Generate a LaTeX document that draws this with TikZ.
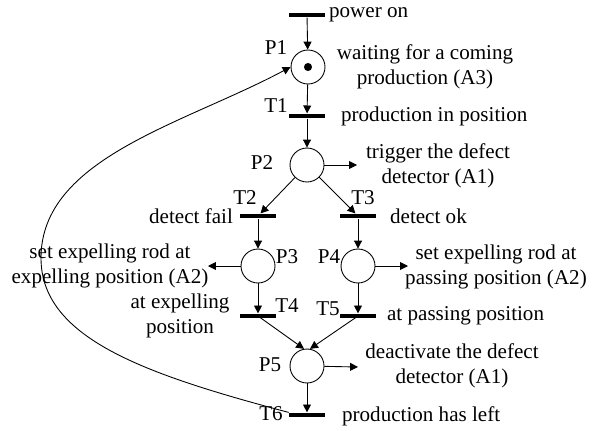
\documentclass[tikz,border=0pt]{standalone}
\usepackage{fontspec}
\setmainfont{Liberation Serif}
\usetikzlibrary{arrows.meta}

\begin{document}
\begin{tikzpicture}[x=0.02cm, y=-0.02cm, font=\fontsize{12}{14}\selectfont,
    place/.style={draw, circle, line width=0.5pt, minimum size=0.68cm, inner sep=0pt},
    trans/.style={rectangle, fill=black, minimum width=0.72cm, minimum height=0.09cm, inner sep=0pt},
    arc/.style={line width=0.5pt, -{Triangle[length=4.5pt,width=4.5pt]}},
    txt/.style={inner sep=1pt, align=center}]
    \useasboundingbox (0,0) rectangle (594,430);

    % Lugares
    \node[place] (p1) at (308,67) {};
    \fill (p1) circle (2.3pt);
    \node[place] (p2) at (307,165) {};
    \node[place] (p3) at (258,266) {};
    \node[place] (p4) at (358,266) {};
    \node[place] (p5) at (307,366) {};

    % Transicoes
    \node[trans] (t0) at (307,15) {};
    \node[trans] (t1) at (307,116) {};
    \node[trans] (t2) at (258,216) {};
    \node[trans] (t3) at (358,216) {};
    \node[trans] (t4) at (258,316) {};
    \node[trans] (t5) at (358,316) {};
    \node[trans] (t6) at (307,415) {};

    % Nomes
    \node (lp1) at (276,48) {P1};
    \node (lt1) at (276,106) {T1};
    \node (lp2) at (262,163) {P2};
    \node (lt2) at (245,198) {T2};
    \node (lt3) at (363,198) {T3};
    \node (lp3) at (287,257) {P3};
    \node (lp4) at (329,257) {P4};
    \node (lt4) at (287,306) {T4};
    \node (lt5) at (328,309) {T5};
    \node (lp5) at (270,365) {P5};
    \node (lt6) at (271,414) {T6};

    % Acoes
    \coordinate (a2) at (357,165);
    \coordinate (a3) at (208,266);
    \coordinate (a4) at (408,266);
    \coordinate (a5) at (358,367);
    \draw[arc] (p2) -- (a2);
    \draw[arc] (p3) -- (a3);
    \draw[arc] (p4) -- (a4);
    \draw[arc] (p5) -- (a5);

    % Textos
    \node[txt, anchor=west] (pon) at (327,15) {power on};
    \node[txt] (wait) at (425,67) {waiting for a coming\\production (A3)};
    \node[txt, anchor=west] (pin) at (339,116) {production in position};
    \node[txt] (trig) at (438,166) {trigger the defect\\detector (A1)};
    \node[txt, anchor=east] (dfail) at (235,216) {detect fail};
    \node[txt, anchor=west] (dok) at (388,216) {detect ok};
    \node[txt] (sexp) at (110,266) {set expelling rod at\\expelling position (A2)};
    \node[txt] (spas) at (496,267) {set expelling rod at\\passing position (A2)};
    \node[txt] (aexp) at (180,316) {at expelling\\position};
    \node[txt, anchor=west] (apas) at (385,316) {at passing position};
    \node[txt] (deact) at (452,366) {deactivate the defect\\detector (A1)};
    \node[txt, anchor=west] (left) at (340,416) {production has left};

    % Arcos
    \draw[arc] (t0) -- (p1);
    \draw[arc] (p1) -- (t1);
    \draw[arc] (t1) -- (p2);
    \draw[arc] (p2) -- (t2);
    \draw[arc] (p2) -- (t3);
    \draw[arc] (t2) -- (p3);
    \draw[arc] (t3) -- (p4);
    \draw[arc] (p3) -- (t4);
    \draw[arc] (p4) -- (t5);
    \draw[arc] (t4.center) -- (p5.100);
    \draw[arc] (t5.center) -- (p5.80);
    \draw[arc] (p5) -- (t6);

    % Retorno
    \coordinate (bend) at (41,258);
    \draw[arc] (t6.north west) .. controls (144,374) and (41,338) .. (bend)
        .. controls (41,158) and (184,124) .. (p1.west);
\end{tikzpicture}
\end{document}
